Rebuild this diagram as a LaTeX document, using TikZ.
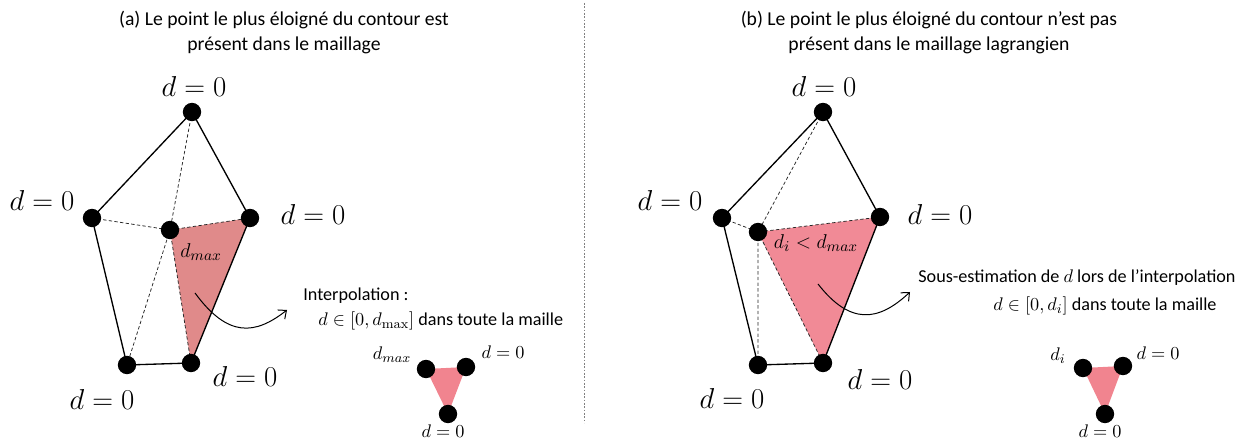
\documentclass[tikz,border=0pt]{standalone}
\usepackage[no-math]{fontspec}
\setmainfont{Carlito}
\usetikzlibrary{arrows.meta}
\definecolor{zoneA}{RGB}{224,138,138}
\definecolor{zoneB}{RGB}{241,138,150}
\definecolor{zoneC}{RGB}{241,132,143}
\tikzset{
  vertex/.style={circle, fill=black, minimum size=11pt, inner sep=0pt},
  mesh/.style={line width=0.8pt},
  hidden/.style={line width=0.45pt, dash pattern=on 2pt off 1.4pt, draw=black!85},
  biglabel/.style={font=\fontsize{17}{20}\selectfont, inner sep=1pt},
  smalllabel/.style={font=\fontsize{11}{13}\selectfont, inner sep=1pt},
  title/.style={font=\fontsize{11.8}{15}\selectfont, align=center},
  note/.style={font=\fontsize{10.9}{13}\selectfont, anchor=west, inner sep=0pt},
  curvearrow/.style={-{Straight Barb[length=4pt,width=7pt]}, line width=0.6pt},
  divider/.style={gray, dash pattern=on 1pt off 1pt, line width=0.6pt}
}
\newcommand{\dzero}{$d=0$}

\begin{document}
\begin{tikzpicture}[x=0.6pt, y=-0.6pt]
  \useasboundingbox (0,0) rectangle (1250,441);
  % (a) left panel
  \node[title] (ta) at (284,33) {(a) Le point le plus éloigné du contour est\\présent dans le maillage};
  \coordinate (a0) at (192,112);
  \coordinate (a1) at (92,218);
  \coordinate (a2) at (170,230);
  \coordinate (a3) at (250,218);
  \coordinate (a4) at (127,365);
  \coordinate (a5) at (191,363);
  \fill[zoneA] (a2) -- (a3) -- (a5) -- cycle;
  \draw[hidden] (a0) -- (a2) -- (a4);
  \draw[hidden] (a1) -- (a2) -- (a3);
  \draw[hidden] (a2) -- (a5);
  \draw[mesh] (a1) -- (a0) -- (a3) -- (a5) -- (a4) -- cycle;
  \foreach \p in {a0,a1,a2,a3,a4,a5} \node[vertex] at (\p) {};
  \node[biglabel] (la0) at (194,87) {\dzero};
  \node[biglabel] (la1) at (42,201) {\dzero};
  \node[biglabel] (la3) at (313,215) {\dzero};
  \node[biglabel] (la5) at (245,377) {\dzero};
  \node[biglabel] (la4) at (102,400) {\dzero};
  \node[smalllabel, font=\fontsize{13}{15}\selectfont] (la2) at (201,252) {$d_{max}$};
  \coordinate (ca0) at (195,293);
  \coordinate (ca1) at (287,310);
  \draw[curvearrow] (ca0) .. controls (228,338) and (255,335) .. (ca1);
  \node[note] (na0) at (303,296) {Interpolation :};
  \node[note] (na1) at (318,321) {$d\in[0,d_{\max}]$ dans toute la maille};
  \coordinate (a6) at (426,369);
  \coordinate (a7) at (466,367);
  \coordinate (a8) at (448,414);
  \fill[zoneC] (a6) -- (a7) -- (a8) -- cycle;
  \foreach \p in {a6,a7,a8} \node[vertex] at (\p) {};
  \node[smalllabel] (la6) at (392,355) {$d_{max}$};
  \node[smalllabel] (la7) at (503,352) {\dzero};
  \node[smalllabel] (la8) at (443,431) {\dzero};
  % divider
  \coordinate (v0) at (584,3);
  \coordinate (v1) at (584,423);
  \draw[divider] (v0) -- (v1);
  % (b) right panel
  \node[title] (tb) at (929,33) {(b) Le point le plus éloigné du contour n’est pas\\présent dans le maillage lagrangien};
  \coordinate (b0) at (823,112);
  \coordinate (b1) at (722,218);
  \coordinate (b2) at (758,232);
  \coordinate (b3) at (880,217);
  \coordinate (b4) at (758,365);
  \coordinate (b5) at (823,363);
  \fill[zoneB] (b2) -- (b3) -- (b5) -- cycle;
  \draw[hidden] (b0) -- (b2) -- (b4);
  \draw[hidden] (b1) -- (b2) -- (b3);
  \draw[hidden] (b2) -- (b5);
  \draw[mesh] (b1) -- (b0) -- (b3) -- (b5) -- (b4) -- cycle;
  \foreach \p in {b0,b1,b2,b3,b4,b5} \node[vertex] at (\p) {};
  \node[biglabel] (lb0) at (824,87) {\dzero};
  \node[biglabel] (lb1) at (670,201) {\dzero};
  \node[biglabel] (lb3) at (940,215) {\dzero};
  \node[biglabel] (lb5) at (880,380) {\dzero};
  \node[biglabel] (lb4) at (732,399) {\dzero};
  \node[smalllabel, font=\fontsize{13}{15}\selectfont] (lb2) at (816,243) {$d_i<d_{max}$};
  \coordinate (cb0) at (818,284);
  \coordinate (cb1) at (910,292);
  \draw[curvearrow] (cb0) .. controls (850,325) and (878,322) .. (cb1);
  \node[note] (nb0) at (918,278) {Sous-estimation de $d$ lors de l’interpolation};
  \node[note] (nb1) at (993,306) {$d\in[0,d_i]$ dans toute la maille};
  \coordinate (b6) at (1083,368);
  \coordinate (b7) at (1123,366);
  \coordinate (b8) at (1105,414);
  \fill[zoneC] (b6) -- (b7) -- (b8) -- cycle;
  \foreach \p in {b6,b7,b8} \node[vertex] at (\p) {};
  \node[smalllabel] (lb6) at (1058,356) {$d_i$};
  \node[smalllabel] (lb7) at (1158,353) {\dzero};
  \node[smalllabel] (lb8) at (1100,431) {\dzero};
\end{tikzpicture}
\end{document}
